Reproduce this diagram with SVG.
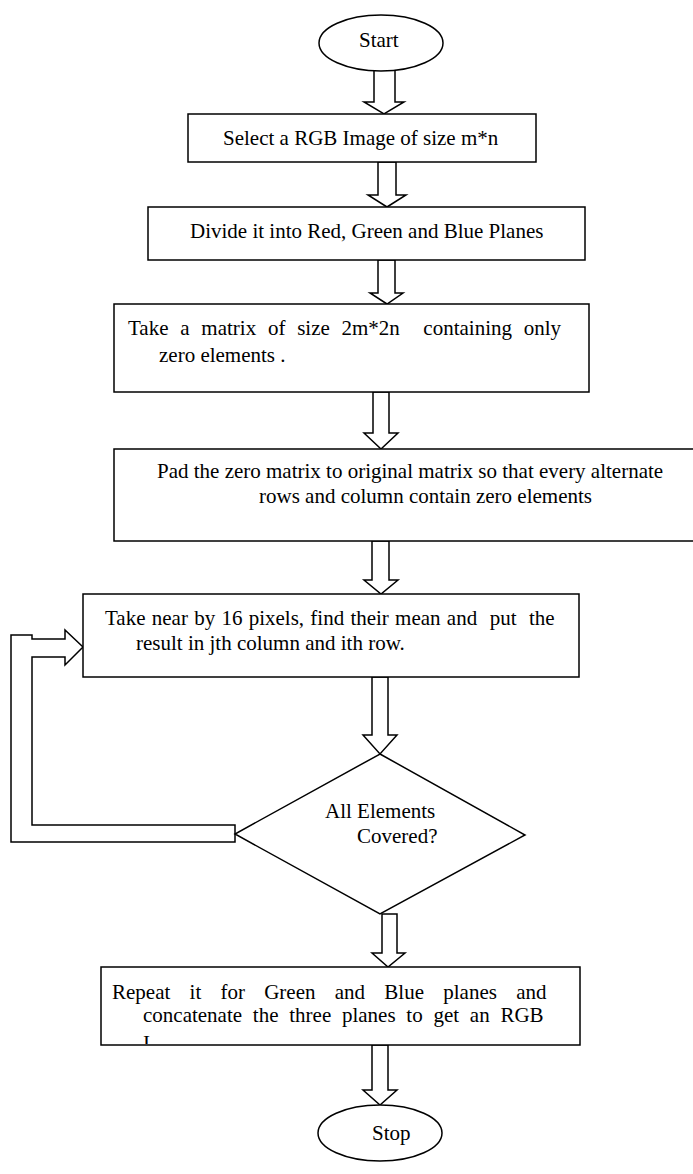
<svg xmlns="http://www.w3.org/2000/svg" width="693" height="1174" viewBox="0 0 693 1174">
<style>
.s{fill:#fff;stroke:#000;stroke-width:1.5}
.t{font-family:"Liberation Serif","Times New Roman",serif;font-size:21px;fill:#000}
</style>
<defs>
<clipPath id="clipR"><rect x="101" y="967" width="479" height="77"/></clipPath>
</defs>
<rect width="693" height="1174" fill="#fff"/>
<g id="connectors">
<polygon class="s" points="374,68 395,68 395,102 404,102 384,114 364,102 374,102"/>
<polygon class="s" points="378,162 396,162 396,195 406,195 387,207 368,195 378,195"/>
<polygon class="s" points="378,260 395,260 395,293 403,293 387,304 370,293 378,293"/>
<polygon class="s" points="373,392 389,392 389,433 398,433 381,449 364,433 373,433"/>
<polygon class="s" points="372,541 389,541 389,580 398,580 381,594 364,580 372,580"/>
<polygon class="s" points="372,677 388,677 388,735 397,735 380,754 363,735 372,735"/>
<polygon class="s" points="382,914 397,914 397,953 405,953 388,967 372,953 382,953"/>
<polygon class="s" points="372,1045 388,1045 388,1090 397,1090 380,1105 363,1090 372,1090"/>
<polygon class="s" points="11,635 32,635 32,639 65,639 65,630 83,647 65,665 65,657 32,657 32,825 235,825 235,842 11,842"/>
</g>
<g id="start">
<ellipse class="s" cx="381" cy="43" rx="62" ry="28"/>
<text class="t" x="359" y="47">Start</text>
</g>
<g id="select">
<rect class="s" x="188" y="114" width="348" height="48"/>
<text class="t" x="223" y="145">Select a RGB Image of size m*n</text>
</g>
<g id="divide">
<rect class="s" x="148" y="207" width="437" height="53"/>
<text class="t" x="190" y="238">Divide it into Red, Green and Blue Planes</text>
</g>
<g id="take">
<rect class="s" x="114" y="304" width="475" height="88"/>
<text class="t" x="128" y="335" xml:space="preserve" style="word-spacing:6.5px">Take a matrix of size 2m*2n  containing only</text>
<text class="t" x="159" y="362">zero elements .</text>
</g>
<g id="pad">
<rect class="s" x="114" y="449" width="600" height="92"/>
<text class="t" x="157" y="478">Pad the zero matrix to original matrix so that every alternate</text>
<text class="t" x="259" y="503">rows and column contain zero elements</text>
</g>
<g id="mean">
<rect class="s" x="83" y="594" width="496" height="83"/>
<text class="t" x="105" y="625" xml:space="preserve" style="word-spacing:1px">Take near by 16 pixels, find their mean and  put  the</text>
<text class="t" x="136" y="650">result in jth column and ith row.</text>
</g>
<g id="decision">
<polygon class="s" points="380,754 525,835 380,914 235,834"/>
<text class="t" x="325" y="818">All Elements</text>
<text class="t" x="357" y="843">Covered?</text>
</g>
<g id="repeat">
<rect class="s" x="101" y="967" width="479" height="78"/>
<text class="t" x="112" y="999" style="word-spacing:14px">Repeat it for Green and Blue planes and</text>
<text class="t" x="143" y="1022" style="word-spacing:5.5px">concatenate the three planes to get an RGB</text>
<text class="t" x="143" y="1050" clip-path="url(#clipR)">I</text>
</g>
<g id="stop">
<ellipse class="s" cx="380" cy="1133" rx="62" ry="28"/>
<text class="t" x="372" y="1140">Stop</text>
</g>
</svg>
